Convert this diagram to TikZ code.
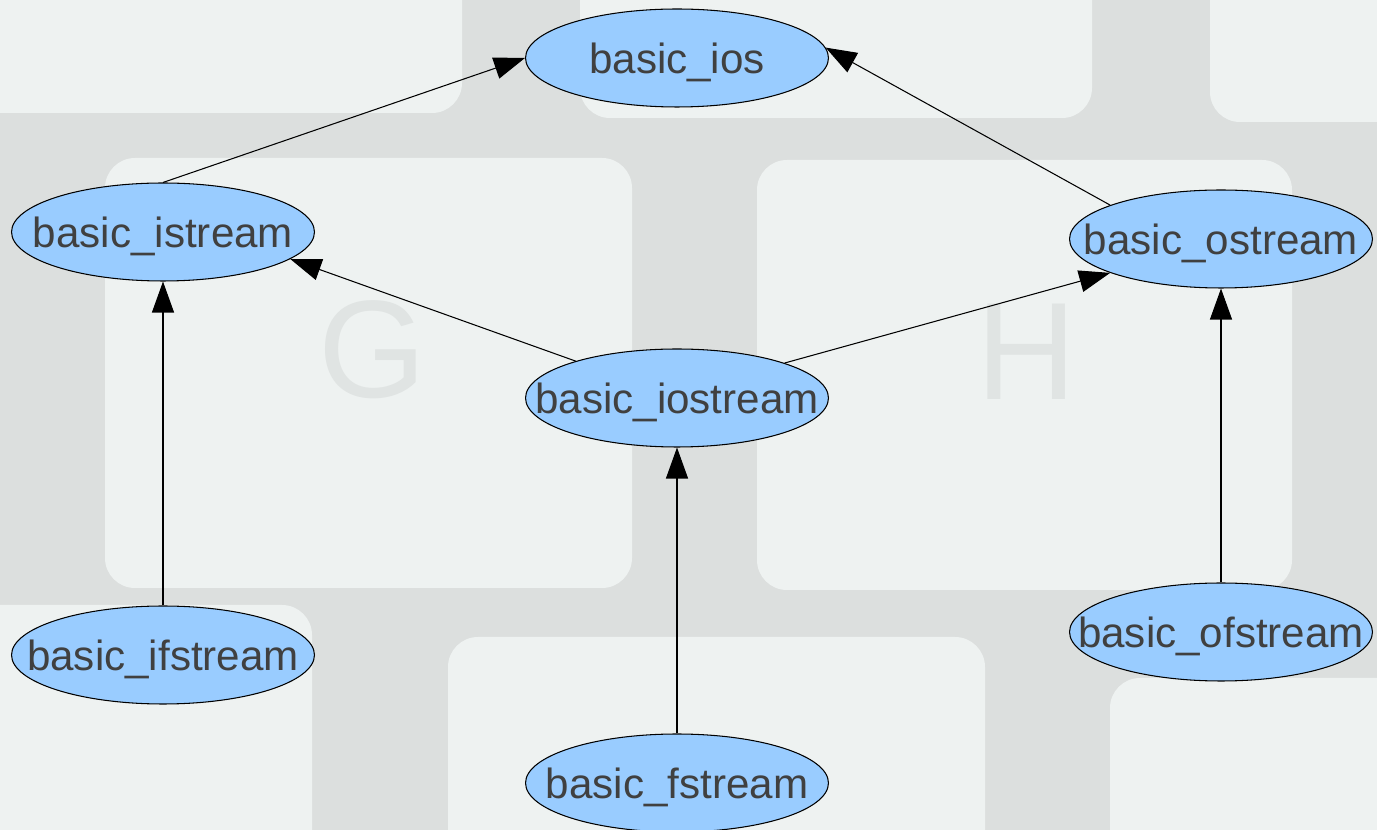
\documentclass[tikz,border=0pt]{standalone}
\usepackage{fontspec}
\setmainfont{Liberation Sans}
\usetikzlibrary{shapes.geometric,arrows.meta}
\definecolor{classblue}{HTML}{99CCFF}
\definecolor{classtext}{HTML}{404040}
\definecolor{gapgrey}{HTML}{DCDFDE}
\definecolor{capgrey}{HTML}{EEF2F1}
\definecolor{glyphgrey}{HTML}{E0E4E3}
\tikzset{class/.style={ellipse, draw=black, line width=0.6pt, fill=classblue,
        minimum width=6.06cm, minimum height=1.96cm, inner sep=0pt,
        text height=0.72cm, text depth=0.08cm,
        text=classtext, font=\fontsize{24}{28}\selectfont,
        execute at begin node={\setbox0\hbox\bgroup},
        execute at end node={\egroup\hbox to 0pt{\hss\box0\hss}}},
    derives/.style={-{Triangle[length=0.62cm,width=0.44cm]}, line width=0.6pt},
    keycap/.style={fill=capgrey, rounded corners=0.6cm},
    keyglyph/.style={text=glyphgrey, font=\fontsize{79}{80}\selectfont},
    }

\begin{document}
\begin{tikzpicture}[x=0.02cm, y=-0.02cm]
\useasboundingbox (0,0) rectangle (1377,830);
% keyboard behind the graph
\begin{scope}
\clip (0,0) rectangle (1377,830);
\fill[gapgrey] (0,0) rectangle (1377,830);
\fill[keycap] (-40,-40) rectangle (462,113);
\fill[keycap] (580,-40) rectangle (1092,118);
\fill[keycap] (1210,-40) rectangle (1420,122);
\fill[keycap] (105,158) rectangle (632,588);%G
\fill[keycap] (757,160) rectangle (1292,590);%H
\fill[keycap] (-40,605) rectangle (312,880);
\fill[keycap] (448,637) rectangle (985,880);
\fill[keycap] (1110,678) rectangle (1420,880);
\node[keyglyph] (gkey) at (372,350) {G};
\node[keyglyph] (hkey) at (1027,352) {H};
\end{scope}
% classes
\node[class] (ios) at (677,58) {basic\_ios};
\node[class] (istream) at (163,232) {basic\_istream};
\node[class] (ostream) at (1221,239) {basic\_ostream};
\node[class] (iostream) at (677,398) {basic\_iostream};
\node[class] (ifstream) at (163,655) {basic\_ifstream};
\node[class] (ofstream) at (1221,632) {basic\_ofstream};
\node[class] (fstream) at (677,783) {basic\_fstream};
% inheritance
\draw[derives] (istream.north) -- (ios.west);
\draw[derives] (ostream.163) -- (ios.4);
\draw[derives] (iostream.160) -- (istream.-12);
\draw[derives] (iostream.18) -- (ostream.-163);
\draw[derives] (ifstream.north) -- (istream.south);
\draw[derives] (fstream.north) -- (iostream.south);
\draw[derives] (ofstream.north) -- (ostream.south);
\end{tikzpicture}
\end{document}
